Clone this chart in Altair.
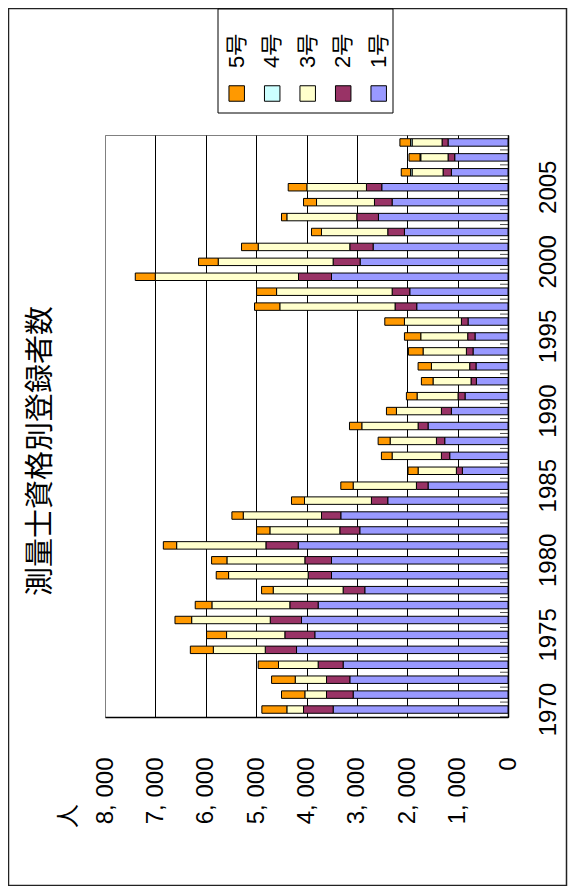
import altair as alt
import pandas as pd

years = list(range(1970, 2009))
series_names = ["1号", "2号", "3号", "4号", "5号"]
legend_order = ["5号", "4号", "3号", "2号", "1号"]
colors = ["#9999FF", "#993366", "#FFFFCC", "#CCFFFF", "#FF9900"]
value_ticks = [0, 1000, 2000, 3000, 4000, 5000, 6000, 7000, 8000]
year_ticks = [1970, 1975, 1980, 1985, 1990, 1995, 2000, 2005]
chart_title = "測量士資格別登録者数"
unit_label = "人"

go1 = [3471, 3074, 3140, 3273, 4198, 3835, 4099, 3769, 2843, 3504,
       3504, 4165, 2942, 3319, 2387, 1587, 906, 1157, 1256, 1587,
       1124, 853, 628, 635, 694, 655, 793, 1812, 1950, 3504,
       2936, 2678, 2056, 2572, 2301, 2506, 1124, 1058, 1190]
go2 = [588, 529, 463, 496, 621, 595, 621, 562, 430, 463,
       529, 641, 397, 383, 324, 231, 119, 165, 165, 198,
       198, 139, 106, 126, 132, 145, 132, 430, 350, 655,
       536, 463, 331, 430, 350, 304, 165, 132, 119]
go3 = [331, 430, 621, 787, 1031, 1157, 1560, 1547, 1388, 1580,
       1547, 1772, 1388, 1554, 1329, 1256, 760, 979, 919, 1117,
       893, 813, 754, 760, 860, 932, 1131, 2288, 2294, 2843,
       2281, 1818, 1316, 1388, 1150, 1183, 615, 542, 595]
go4 = [0, 0, 0, 0, 0, 0, 0, 0, 0, 0,
       0, 0, 0, 0, 0, 0, 0, 0, 0, 0,
       0, 0, 0, 0, 0, 0, 0, 0, 0, 0,
       0, 0, 0, 0, 0, 0, 30, 15, 30]
go5 = [496, 463, 469, 403, 456, 397, 331, 331, 231, 245,
       304, 264, 264, 225, 258, 245, 198, 212, 238, 245,
       198, 212, 231, 264, 291, 324, 390, 502, 397, 397,
       390, 331, 198, 106, 258, 370, 185, 218, 212]

rows = []
for i, (name, vals) in enumerate(zip(series_names, [go1, go2, go3, go4, go5])):
    for yr, v in zip(years, vals):
        if v > 0:
            rows.append({"year": yr, "series": name, "order": i, "value": v})
df = pd.DataFrame(rows)
years_df = pd.DataFrame({"year": years})
legend_df = pd.DataFrame({"series": legend_order})
one = pd.DataFrame({"k": [0]})

W, H = 403, 582
FONT = "Liberation Sans"
JFONT = "Noto Sans CJK JP"

x_scale = alt.Scale(domain=[0, 8000], reverse=True, nice=False, zero=True)
y_scale = alt.Scale(domain=years[::-1], paddingInner=0.5, paddingOuter=0.25)
color_scale = alt.Scale(domain=series_names, range=colors)

x_axis = alt.Axis(
    orient="bottom", values=value_ticks,
    labelExpr="replace(format(datum.value, ',d'), ',', ', ')",
    labelAngle=270,
    labelAlign="right", labelBaseline="middle", labelPadding=40,
    labelFontSize=24, labelFont=FONT, labelColor="black", labelFlush=False,
    labelOverlap=False, ticks=False, grid=True,
    gridColor={"condition": {"test": "datum.value === 8000", "value": "#808080"}, "value": "#000000"},
    gridWidth=1, domainColor="black", domainWidth=1.5, title=None,
)
y_axis = alt.Axis(
    orient="right", values=year_ticks, labelAngle=270, labelAlign="center",
    labelBaseline="top", labelPadding=28, labelFontSize=24, labelFont=FONT,
    labelColor="black", labelOverlap=False, ticks=False, domainColor="black",
    domainWidth=1.5, title=None,
)

bars = alt.Chart(df).mark_bar(stroke="black", strokeWidth=1).encode(
    x=alt.X("value:Q", stack="zero", scale=x_scale, axis=x_axis),
    y=alt.Y("year:O", scale=y_scale, axis=y_axis),
    color=alt.Color("series:N", scale=color_scale, legend=None),
    order=alt.Order("order:Q", sort="ascending"),
)

step = H / len(years)
inner_ticks = alt.Chart(years_df).mark_tick(
    orient="horizontal", size=8, thickness=1, color="black",
    xOffset=-4, yOffset=step / 2,
).encode(
    x=alt.datum(0),
    y=alt.Y("year:O", scale=y_scale),
)

main = alt.layer(bars, inner_ticks)

frame = alt.Chart(one).mark_rect(fill="transparent", stroke="#222222", strokeWidth=1.5).encode(
    x=alt.value(-96.5), x2=alt.value(461.5), y=alt.value(-126.5), y2=alt.value(750.5)
)

title = alt.Chart(one).mark_text(
    text=chart_title, angle=270, fontSize=29, font=JFONT, color="black",
    align="center", baseline="middle",
).encode(x=alt.value(-64), y=alt.value(316))

unit = alt.Chart(one).mark_text(
    text=unit_label, angle=270, fontSize=24, font=JFONT, color="black",
    align="left", baseline="middle",
).encode(x=alt.value(-36), y=alt.value(693))

legend_box = alt.Chart(one).mark_rect(fill="white", stroke="black", strokeWidth=1).encode(
    x=alt.value(113), x2=alt.value(288), y=alt.value(-126), y2=alt.value(-22)
)

legend_x = alt.X("series:N", scale=alt.Scale(domain=legend_order, range=[131.7, 273.7], padding=0), axis=None)

legend_text = alt.Chart(legend_df).mark_text(
    angle=270, fontSize=22, font=FONT + ", " + JFONT, color="black", align="left", baseline="middle",
).encode(x=legend_x, y=alt.value(-67), text="series:N")

legend_sw = alt.Chart(legend_df).mark_square(size=240, stroke="black", strokeWidth=1, opacity=1).encode(
    x=legend_x, y=alt.value(-41.5),
    color=alt.Color("series:N", scale=color_scale, legend=None),
)

legend = alt.layer(legend_text, legend_sw)

chart = alt.layer(frame, title, unit, legend_box, main, legend).resolve_scale(
    x="independent"
).properties(
    width=W, height=H,
    autosize=alt.AutoSizeParams(type="none"),
    padding={"left": 97, "top": 127, "right": 60, "bottom": 169},
    background="white",
).configure_view(stroke="#808080", strokeWidth=1)

chart.save("out.html", embed_options={"renderer": "svg", "actions": False})
